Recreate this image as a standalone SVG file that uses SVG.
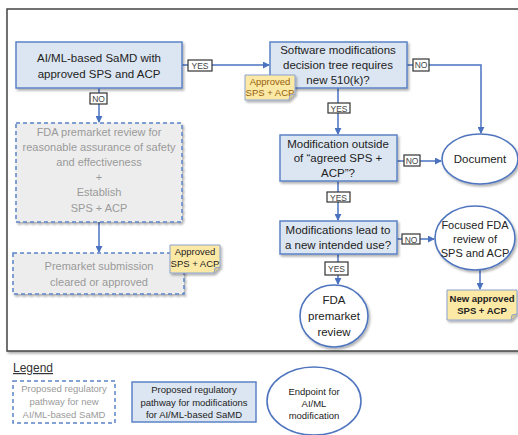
<svg xmlns="http://www.w3.org/2000/svg" width="518" height="435" viewBox="0 0 518 435">
<defs>
<style>
text{font-family:"Liberation Sans",Arial,sans-serif;text-anchor:middle;}
.t{font-size:11.5px;fill:#222;}
.g{font-size:11px;fill:#9a9a9a;}
.blue{fill:#dce6f2;stroke:#5b82c6;stroke-width:1.5;}
.dash{fill:#ededed;stroke:#5b82c6;stroke-width:1.5;stroke-dasharray:4 3;}
.ell{fill:#fff;stroke:#4f75bf;stroke-width:1.6;}
.note{fill:#fde9a6;stroke:#8aa2cf;stroke-width:1;}
.nt{font-size:9.5px;fill:#222;}
.lab rect{fill:#fff;stroke:#333;stroke-width:1.2;}
.lab text{font-size:8.5px;fill:#444;}
.con path{fill:none;stroke:#4a72c0;stroke-width:1.5;}
.lg{font-size:9.5px;}
</style>
<filter id="sh" x="-10%" y="-10%" width="130%" height="140%">
<feDropShadow dx="1.5" dy="2" stdDeviation="1.2" flood-color="#000" flood-opacity="0.3"/>
</filter>
<marker id="ar" viewBox="0 0 8 8" refX="7" refY="4" markerWidth="7" markerHeight="7" orient="auto" markerUnits="userSpaceOnUse">
<path d="M0,0 L8,4 L0,8 z" fill="#4a72c0"/>
</marker>
</defs>
<rect width="518" height="435" fill="#fff"/>
<rect id="frame" x="7" y="9" width="530" height="342" fill="#fff" stroke="#444" stroke-width="1.5" filter="url(#sh)"/>

<g class="con">
<path d="M182,65 H269" marker-end="url(#ar)"/>
<path d="M407,65 H481 V133" marker-end="url(#ar)"/>
<path d="M338,88 V134" marker-end="url(#ar)"/>
<path d="M397,161 H441" marker-end="url(#ar)"/>
<path d="M338,181 V220" marker-end="url(#ar)"/>
<path d="M397,239 H434" marker-end="url(#ar)"/>
<path d="M480,270 V289" marker-end="url(#ar)"/>
<path d="M338,254 V284" marker-end="url(#ar)"/>
<path d="M99,88 V122" marker-end="url(#ar)"/>
<path d="M99,222 V252" marker-end="url(#ar)"/>
</g>

<g id="box1">
<rect class="blue" x="16" y="42" width="166" height="46" filter="url(#sh)"/>
<text class="t" x="99" y="62">AI/ML-based SaMD with</text>
<text class="t" x="99" y="78">approved SPS and ACP</text>
</g>

<g id="box2">
<rect class="blue" x="270" y="42" width="137" height="46" filter="url(#sh)"/>
<text class="t" x="338" y="54">Software modifications</text>
<text class="t" x="338" y="69">decision tree requires</text>
<text class="t" x="338" y="84">new 510(k)?</text>
</g>

<g id="note1">
<path class="note" d="M245,75 H295 V94 L289,100 H245 Z" filter="url(#sh)"/>
<path d="M289,100 L290,95 L295,94" fill="#e6cf86" stroke="#8aa2cf" stroke-width="1"/>
<text class="nt" x="270" y="85" style="fill:#94600a">Approved</text>
<text class="nt" x="270" y="96" style="fill:#94600a">SPS + ACP</text>
</g>

<g id="box3">
<rect class="blue" x="280" y="135" width="117" height="46" filter="url(#sh)"/>
<text class="t" x="338" y="148">Modification outside</text>
<text class="t" x="338" y="162">of “agreed SPS +</text>
<text class="t" x="338" y="177">ACP”?</text>
</g>

<g id="document">
<ellipse class="ell" cx="480" cy="159" rx="38" ry="25" filter="url(#sh)"/>
<text class="t" x="480" y="163">Document</text>
</g>

<g id="box4">
<rect class="blue" x="280" y="221" width="117" height="33" filter="url(#sh)"/>
<text class="t" x="338" y="234">Modifications lead to</text>
<text class="t" x="338" y="249">a new intended use?</text>
</g>

<g id="focused">
<ellipse class="ell" cx="475" cy="238" rx="40" ry="32" filter="url(#sh)"/>
<text class="t" x="475" y="229" style="font-size:11px">Focused FDA</text>
<text class="t" x="475" y="243" style="font-size:11px">review of</text>
<text class="t" x="475" y="257" style="font-size:11px">SPS and ACP</text>
</g>

<g id="note3">
<path class="note" d="M447,290 H517 V314 L511,320 H447 Z" filter="url(#sh)"/>
<path d="M511,320 L512,315 L517,314" fill="#e6cf86" stroke="#8aa2cf" stroke-width="1"/>
<text class="nt" x="482" y="302" style="font-weight:bold;font-size:9.5px">New approved</text>
<text class="nt" x="482" y="314" style="font-weight:bold;font-size:9.5px">SPS + ACP</text>
</g>

<g id="fdareview">
<ellipse class="ell" cx="334" cy="316" rx="34" ry="31" filter="url(#sh)"/>
<text class="t" x="334" y="304">FDA</text>
<text class="t" x="334" y="320">premarket</text>
<text class="t" x="334" y="336">review</text>
</g>

<g id="box5">
<rect class="dash" x="16" y="123" width="166" height="99" filter="url(#sh)"/>
<text class="g" x="99" y="136">FDA premarket review  for</text>
<text class="g" x="99" y="151">reasonable assurance of safety</text>
<text class="g" x="99" y="166">and effectiveness</text>
<text class="g" x="99" y="181">+</text>
<text class="g" x="99" y="196">Establish</text>
<text class="g" x="99" y="212">SPS + ACP</text>
</g>

<g id="box6">
<rect class="dash" x="13" y="253" width="171" height="41" filter="url(#sh)"/>
<text class="g" x="99" y="270">Premarket submission</text>
<text class="g" x="99" y="286">cleared or approved</text>
</g>

<g id="note2">
<path class="note" d="M170,245 H220 V267 L214,273 H170 Z" filter="url(#sh)"/>
<path d="M214,273 L215,268 L220,267" fill="#e6cf86" stroke="#8aa2cf" stroke-width="1"/>
<text class="nt" x="195" y="255">Approved</text>
<text class="nt" x="195" y="267">SPS + ACP</text>
</g>

<g class="lab">
<g id="l1"><rect x="188" y="60" width="24" height="11"/><text x="200" y="69">YES</text></g>
<g id="l2"><rect x="413" y="59" width="16" height="12"/><text x="421" y="68">NO</text></g>
<g id="l3"><rect x="328" y="103" width="22" height="10"/><text x="339" y="111.5">YES</text></g>
<g id="l4"><rect x="404" y="155" width="16" height="11"/><text x="412" y="164">NO</text></g>
<g id="l5"><rect x="327" y="192" width="23" height="10"/><text x="338.5" y="200.5">YES</text></g>
<g id="l6"><rect x="402" y="234" width="18" height="10"/><text x="411" y="242.5">NO</text></g>
<g id="l7"><rect x="325" y="262" width="23" height="13"/><text x="336.5" y="272">YES</text></g>
<g id="l8"><rect x="90" y="93" width="17" height="11"/><text x="98.5" y="102">NO</text></g>
</g>

<g id="legend">
<text x="13" y="372" style="font-size:12px;fill:#333;text-anchor:start;text-decoration:underline">Legend</text>
<g id="leg1">
<rect x="13" y="381" width="102" height="42" fill="#fff" stroke="#5b82c6" stroke-width="1.5" stroke-dasharray="4 3"/>
<text class="lg" x="64" y="392" fill="#9a9a9a">Proposed regulatory</text>
<text class="lg" x="64" y="405" fill="#9a9a9a">pathway for new</text>
<text class="lg" x="64" y="418" fill="#9a9a9a">AI/ML-based SaMD</text>
</g>
<g id="leg2">
<rect class="blue" x="132" y="382" width="124" height="40"/>
<text class="lg" x="194" y="393" fill="#222">Proposed regulatory</text>
<text class="lg" x="194" y="406" fill="#222">pathway for modifications</text>
<text class="lg" x="194" y="418" fill="#222">for AI/ML-based SaMD</text>
</g>
<g id="leg3">
<ellipse class="ell" cx="314" cy="401" rx="47" ry="34"/>
<text class="lg" x="314" y="395" fill="#222">Endpoint for</text>
<text class="lg" x="314" y="407" fill="#222">AI/ML</text>
<text class="lg" x="314" y="419" fill="#222">modification</text>
</g>
</g>
</svg>
